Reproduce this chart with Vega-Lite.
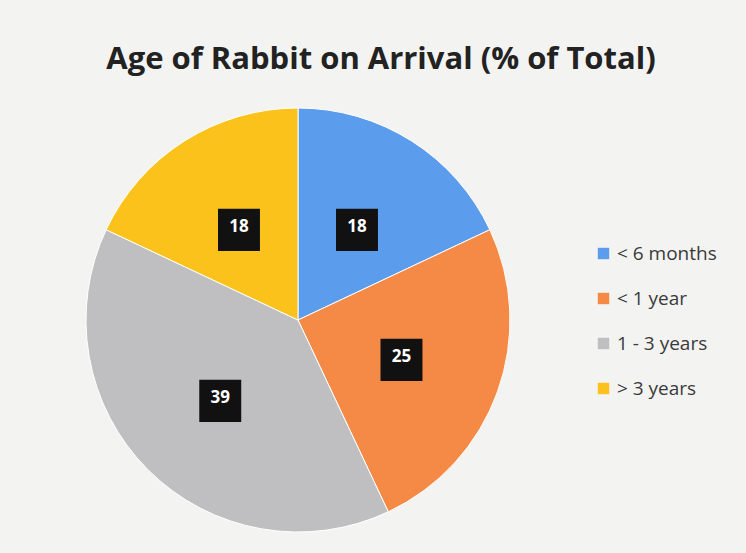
{
  "$schema": "https://vega.github.io/schema/vega-lite/v6.json",
  "width": 596,
  "height": 426,
  "autosize": "none",
  "padding": {"top": 107, "left": 0, "right": 150, "bottom": 20},
  "background": "#f3f3f1",
  "title": {
    "text": "Age of Rabbit on Arrival (% of Total)",
    "anchor": "middle",
    "dx": 83,
    "offset": 30,
    "font": "Open Sans",
    "fontWeight": "bold",
    "fontSize": 31,
    "color": "#222222"
  },
  "data": {
    "values": [
      {"category": "< 6 months", "value": 18, "order": 1},
      {"category": "< 1 year", "value": 25, "order": 2},
      {"category": "1 - 3 years", "value": 39, "order": 3},
      {"category": "> 3 years", "value": 18, "order": 4}
    ]
  },
  "encoding": {
    "theta": {"field": "value", "type": "quantitative", "stack": true},
    "order": {"field": "order", "type": "quantitative"}
  },
  "layer": [
    {
      "mark": {"type": "arc", "outerRadius": 212, "stroke": "#ffffff", "strokeWidth": 1},
      "encoding": {
        "color": {
          "field": "category",
          "type": "nominal",
          "scale": {
            "domain": ["< 6 months", "< 1 year", "1 - 3 years", "> 3 years"],
            "range": ["#5c9cec", "#f48a45", "#bfbfc1", "#fcc21c"]
          },
          "sort": null,
          "legend": {
            "title": null,
            "orient": "none",
            "legendX": 594,
            "legendY": 137,
            "symbolType": "square",
            "symbolSize": 130,
            "symbolStrokeWidth": 0,
            "labelFont": "Open Sans",
            "labelFontSize": 19,
            "labelColor": "#3a3a3a",
            "rowPadding": 25,
            "labelOffset": 4
          }
        }
      }
    },
    {
      "mark": {"type": "text", "radius": 110, "text": "■", "font": "DejaVu Sans", "fontSize": 55, "color": "#111111", "baseline": "middle", "align": "center"}
    },
    {
      "mark": {"type": "text", "radius": 110, "font": "Open Sans", "fontWeight": "bold", "fontSize": 17, "color": "#ffffff", "baseline": "middle", "align": "center"},
      "encoding": {"text": {"field": "value", "type": "quantitative"}}
    }
  ]
}
